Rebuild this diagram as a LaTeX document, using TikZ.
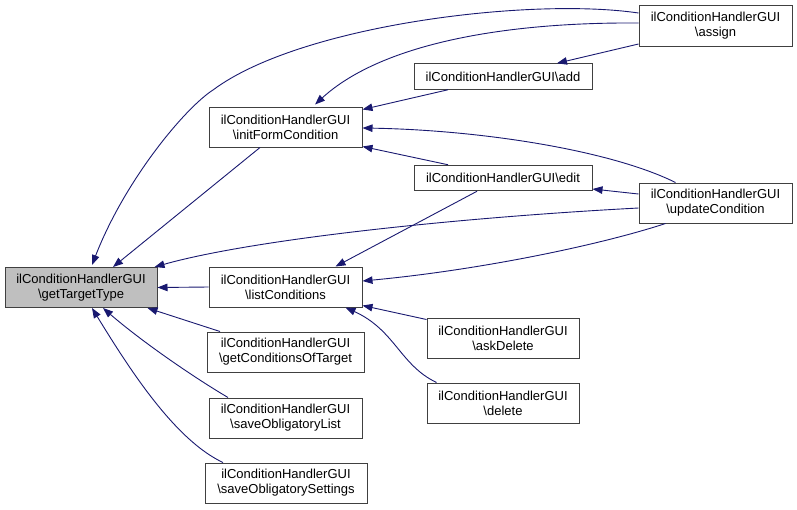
\documentclass[tikz,border=0pt]{standalone}
\usepackage{fontspec}
\setmainfont{Liberation Sans}
\usetikzlibrary{arrows.meta}
\definecolor{edgeblue}{HTML}{191970}
\definecolor{boxline}{HTML}{404040}
\definecolor{curfill}{HTML}{BFBFBF}
\begin{document}
\begin{tikzpicture}[x=1pt,y=-1pt,
  fn/.style={draw=boxline,line width=1pt,fill=white,inner sep=0pt,align=center,
    font=\fontsize{13}{15}\selectfont,minimum height=40pt},
  fnone/.style={fn,minimum height=25.5pt},
  cur/.style={fn,fill=curfill},
  edge/.style={draw=edgeblue,line width=0.9pt,-{Triangle[length=10pt,width=7.5pt]}}]
\useasboundingbox (0,0) rectangle (797,509);
% nodes
\node[cur,minimum width=152pt] (gtt) at (81,287.5) {ilConditionHandlerGUI\\\textbackslash getTargetType};
\node[fn,minimum width=153pt] (ifc) at (285.5,127) {ilConditionHandlerGUI\\\textbackslash initFormCondition};
\node[fn,minimum width=153pt] (lc) at (285.5,287) {ilConditionHandlerGUI\\\textbackslash listConditions};
\node[fn,minimum width=153pt,minimum height=41pt] (asg) at (715.5,25.5) {ilConditionHandlerGUI\\\textbackslash assign};
\node[fnone,minimum width=178pt] (add) at (503,76.5) {ilConditionHandlerGUI\textbackslash add};
\node[fnone,minimum width=178pt] (edit) at (503,178) {ilConditionHandlerGUI\textbackslash edit};
\node[fn,minimum width=153pt] (upd) at (715.5,203) {ilConditionHandlerGUI\\\textbackslash updateCondition};
\node[fn,minimum width=157pt] (goft) at (285.5,352) {ilConditionHandlerGUI\\\textbackslash getConditionsOfTarget};
\node[fn,minimum width=153pt] (sol) at (285.5,418) {ilConditionHandlerGUI\\\textbackslash saveObligatoryList};
\node[fn,minimum width=162pt] (sos) at (286,483) {ilConditionHandlerGUI\\\textbackslash saveObligatorySettings};
\node[fn,minimum width=152pt] (ask) at (503,338) {ilConditionHandlerGUI\\\textbackslash askDelete};
\node[fn,minimum width=152pt] (del) at (503,403) {ilConditionHandlerGUI\\\textbackslash delete};
% edges
\draw[edge] ([yshift=12.5pt]asg.west) .. controls (530,-3) and (300,25) .. (213,90)
  .. controls (185,108) and (125,180) .. ([xshift=11pt,yshift=2pt]gtt.north);
\draw[edge] ([yshift=2.5pt]asg.west) .. controls (500,22) and (380,45) .. ([xshift=29.5pt,yshift=2pt]ifc.north);
\draw[edge] ([yshift=-18.5pt]asg.west) -- ([xshift=54pt]add.north);
\draw[edge] ([xshift=-55pt]add.south) -- ([yshift=-3pt]ifc.north east);
\draw[edge] ([xshift=-40pt]upd.north) .. controls (610,150) and (480,130) .. ([yshift=-1pt]ifc.east);
\draw[edge] ([xshift=-55pt]edit.north) -- ([yshift=1pt]ifc.south east);
\draw[edge] ([yshift=9pt]upd.west) -- ([yshift=-11pt]edit.east);
\draw[edge] ([xshift=-50pt]upd.south) .. controls (600,245) and (480,270) .. ([yshift=6pt]lc.east);
\draw[edge] ([yshift=-5pt]upd.west) .. controls (450,218) and (250,240) .. ([xshift=-3pt]gtt.north east);
\draw[edge] ([xshift=-26pt]edit.south) -- ([xshift=50pt]lc.north);
\draw[edge] (lc.west) -- (gtt.east);
\draw[edge] ([xshift=-25.5pt]ifc.south) -- ([xshift=32pt]gtt.north);
\draw[edge] ([xshift=-65.5pt]goft.north) -- ([xshift=-10pt]gtt.south east);
\draw[edge] ([xshift=-57.5pt]sol.north) .. controls (190,375) and (140,340) .. ([xshift=22pt]gtt.south);
\draw[edge] ([xshift=-63pt]sos.north) .. controls (175,440) and (130,370) .. ([xshift=11pt]gtt.south);
\draw[edge] ([yshift=-2pt]ask.north west) -- ([yshift=2pt]lc.south east);
\draw[edge] ([xshift=10pt]del.north west) .. controls (400,365) and (395,330) .. ([xshift=60pt]lc.south);
\end{tikzpicture}
\end{document}
